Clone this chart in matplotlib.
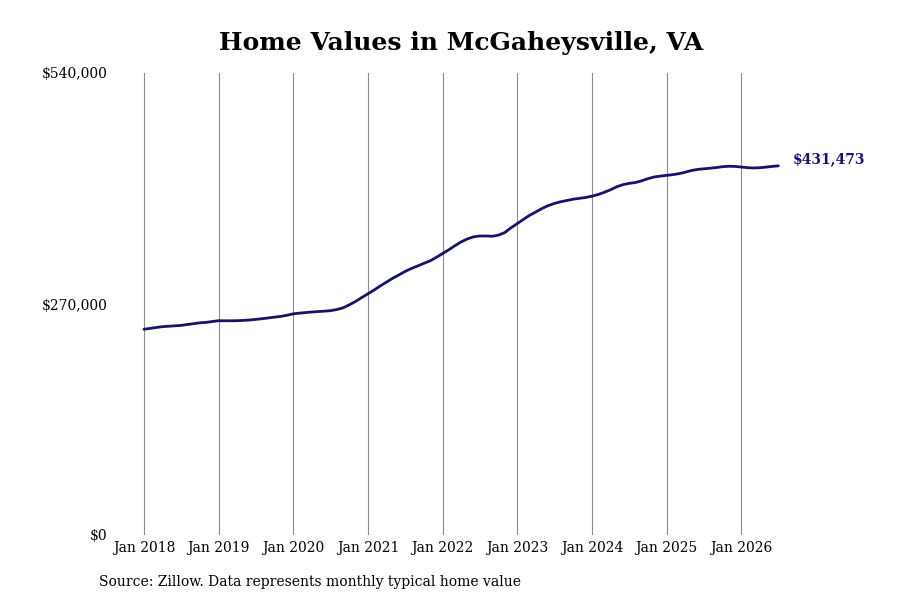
import matplotlib.pyplot as plt
import matplotlib.dates as mdates
import numpy as np
import pandas as pd

# Monthly typical home value, Jan 2018 - Jul 2026
values_2018 = [240.5, 241.5, 242.5, 243.5, 244.0, 244.5, 245.0, 246.0, 247.0, 248.0, 248.5, 249.5]
values_2019 = [250.5, 250.4, 250.4, 250.5, 250.8, 251.3, 252.0, 252.8, 253.7, 254.6, 255.5, 256.8]
values_2020 = [258.5, 259.3, 260.0, 260.6, 261.2, 261.6, 262.2, 263.5, 265.5, 269.0, 273.0, 277.5]
values_2021 = [282.0, 286.5, 291.0, 295.5, 300.0, 304.0, 308.0, 311.5, 314.5, 317.5, 320.5, 324.5]
values_2022 = [329.0, 333.5, 338.0, 342.5, 346.0, 348.5, 349.5, 349.5, 349.2, 350.5, 353.5, 359.0]
values_2023 = [364.0, 369.0, 373.5, 377.5, 381.5, 385.0, 387.5, 389.5, 391.0, 392.5, 393.5, 394.5]
values_2024 = [396.0, 398.0, 400.5, 403.5, 407.0, 409.5, 411.0, 412.0, 414.0, 416.5, 418.5, 419.5]
values_2025 = [420.4, 421.2, 422.3, 424.0, 426.0, 427.3, 428.0, 428.7, 429.5, 430.5, 431.0, 430.8]
values_2026 = [430.1, 429.3, 429.0, 429.3, 430.0, 430.8, 431.473]

values = np.array(values_2018 + values_2019 + values_2020 + values_2021 + values_2022
                  + values_2023 + values_2024 + values_2025 + values_2026) * 1000
dates = pd.date_range('2018-01-01', periods=len(values), freq='MS')

y_ticks = [0, 270000, 540000]
y_tick_labels = ['$0', '$270,000', '$540,000']
x_years = list(range(2018, 2027))
end_label = '$431,473'

navy = '#16136b'

plt.rcParams['font.family'] = 'DejaVu Serif'

fig = plt.figure(figsize=(9, 6), dpi=100)
ax = fig.add_axes([120 / 900, 1 - 535 / 600, 660 / 900, 462 / 600])

ax.plot(dates, values, color=navy, linewidth=2.0, solid_capstyle='round', zorder=3)

ax.set_ylim(0, 540000)
ax.set_xlim(dates[0] - pd.Timedelta(days=117), dates[-1] + pd.Timedelta(days=8))

ax.set_yticks(y_ticks)
ax.set_yticklabels(y_tick_labels)
xt = [pd.Timestamp(f'{y}-01-01') for y in x_years]
ax.set_xticks(xt)
ax.set_xticklabels([f'Jan {y}' for y in x_years])
ax.tick_params(axis='both', length=0, labelsize=10, colors='black')
ax.tick_params(axis='y', pad=9.2)
ax.tick_params(axis='x', pad=4)

ax.grid(axis='x', color='#8c8c8c', linewidth=0.8)
ax.grid(axis='y', visible=False)
for s in ax.spines.values():
    s.set_visible(False)

ax.annotate(end_label, xy=(dates[-1], values[-1]), xytext=(10, 4.5),
            textcoords='offset points', color=navy, fontsize=10,
            fontweight='bold', va='center', ha='left')

fig.text(0.512, 0.928, 'Home Values in McGaheysville, VA', ha='center', va='center',
         fontsize=18, fontweight='bold')
fig.text(99 / 900, 1 - 582 / 600, 'Source: Zillow. Data represents monthly typical home value',
         ha='left', va='center', fontsize=10)

fig.savefig('out.png', dpi=100)
